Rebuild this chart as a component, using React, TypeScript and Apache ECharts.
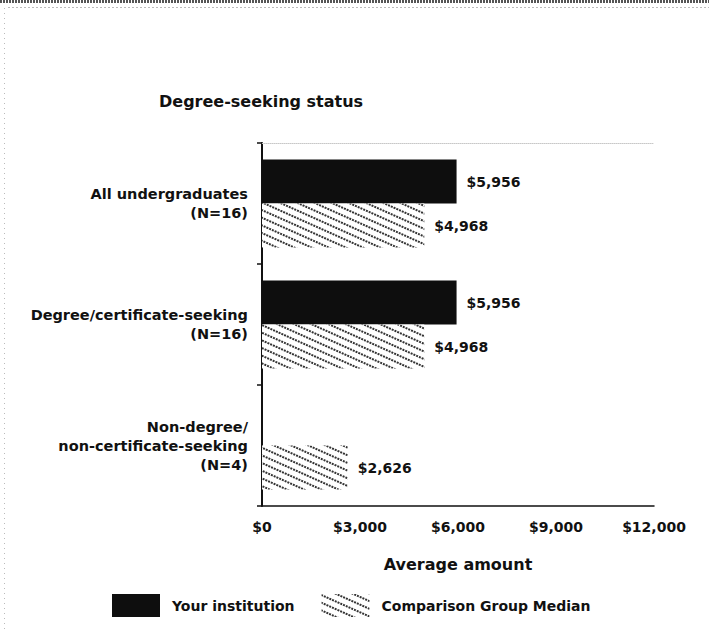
import React, { useEffect, useRef } from "react";
import * as echarts from "echarts";

const categories = [
  "All undergraduates\n(N=16)",
  "Degree/certificate-seeking\n(N=16)",
  "Non-degree/\nnon-certificate-seeking\n(N=4)",
];
const yourInstitution: (number | null)[] = [5956, 5956, null];
const comparisonMedian: number[] = [4968, 4968, 2626];
const xTicks = { min: 0, max: 12000, interval: 3000 };
const seriesNames = ["Your institution", "Comparison Group Median"];

const FONT = "'DejaVu Sans', Verdana, sans-serif";
const money = (v: number) => "$" + Number(v).toLocaleString("en-US");

export default function App() {
  const ref = useRef<HTMLDivElement>(null);
  useEffect(() => {
    if (!ref.current) return;
    const chart = echarts.init(ref.current, null, { renderer: "svg" });
    const hatch = {
      symbol: "rect",
      symbolSize: 1,
      color: "#333333",
      backgroundColor: "#ffffff",
      dashArrayX: [[2, 1]],
      dashArrayY: [2, 5],
      rotation: 0.42,
    };
    const valueLabel = {
      show: true,
      position: "right",
      distance: 10,
      fontFamily: FONT,
      fontWeight: "bold",
      fontSize: 14,
      color: "#111",
      formatter: (p: any) => (p.value == null ? "" : money(p.value)),
    };
    chart.setOption({
      animation: false,
      backgroundColor: "#ffffff",
      title: {
        text: "Degree-seeking status",
        left: 154,
        top: 88,
        textStyle: { fontFamily: FONT, fontWeight: "bold", fontSize: 16, color: "#111" },
      },
      legend: {
        data: seriesNames,
        left: 112,
        top: 594,
        padding: 0,
        icon: "rect",
        itemWidth: 48,
        itemHeight: 23,
        itemGap: 27,
        textStyle: {
          fontFamily: FONT,
          fontWeight: "bold",
          fontSize: 14,
          color: "#111",
          padding: [0, 0, 0, 7],
        },
      },
      grid: { left: 262, right: 55, top: 143, bottom: 123 },
      xAxis: [
        {
          type: "value",
          min: xTicks.min,
          max: xTicks.max,
          interval: xTicks.interval,
          name: "Average amount",
          nameLocation: "middle",
          nameGap: 50,
          nameTextStyle: { fontFamily: FONT, fontWeight: "bold", fontSize: 16, color: "#111" },
          axisLine: { show: true, lineStyle: { color: "#111", width: 1.5 } },
          axisTick: { show: false },
          splitLine: { show: false },
          axisLabel: {
            margin: 14,
            fontFamily: FONT,
            fontWeight: "bold",
            fontSize: 14,
            color: "#111",
            formatter: (v: number) => money(v),
          },
        },
        {
          type: "value",
          position: "top",
          min: xTicks.min,
          max: xTicks.max,
          axisLine: { show: true, lineStyle: { color: "#c8c8c8", width: 1, type: "dotted" } },
          axisTick: { show: false },
          axisLabel: { show: false },
          splitLine: { show: false },
        },
      ],
      yAxis: {
        type: "category",
        inverse: true,
        data: categories,
        axisLine: { show: true, lineStyle: { color: "#111", width: 2 } },
        axisTick: { show: true, length: 5, lineStyle: { color: "#111", width: 1.5 } },
        axisLabel: {
          margin: 14,
          fontFamily: FONT,
          fontWeight: "bold",
          fontSize: 14.5,
          lineHeight: 19,
          color: "#111",
          align: "right",
        },
      },
      series: [
        {
          name: seriesNames[0],
          type: "bar",
          data: yourInstitution,
          barWidth: 44,
          barGap: "0%",
          itemStyle: { color: "#0e0e0e" },
          label: valueLabel,
        },
        {
          name: seriesNames[1],
          type: "bar",
          data: comparisonMedian,
          barWidth: 44,
          barGap: "0%",
          itemStyle: { color: "#ffffff", decal: hatch },
          label: valueLabel,
        },
      ],
      graphic: [
        { type: "line", shape: { x1: 0, y1: 1.5, x2: 709, y2: 1.5 }, style: { stroke: "#555", lineWidth: 3, lineDash: [2, 1] } },
        { type: "line", shape: { x1: 8, y1: 7.5, x2: 709, y2: 7.5 }, style: { stroke: "#bbb", lineWidth: 1, lineDash: [2, 2] } },
        { type: "line", shape: { x1: 4.5, y1: 8, x2: 4.5, y2: 629 }, style: { stroke: "#bbb", lineWidth: 1, lineDash: [1, 4] } },
      ],
    });
    return () => chart.dispose();
  }, []);
  return (
    <div
      ref={ref}
      style={{ position: "fixed", left: 0, top: 0, width: 709, height: 629, background: "#fff" }}
    />
  );
}
